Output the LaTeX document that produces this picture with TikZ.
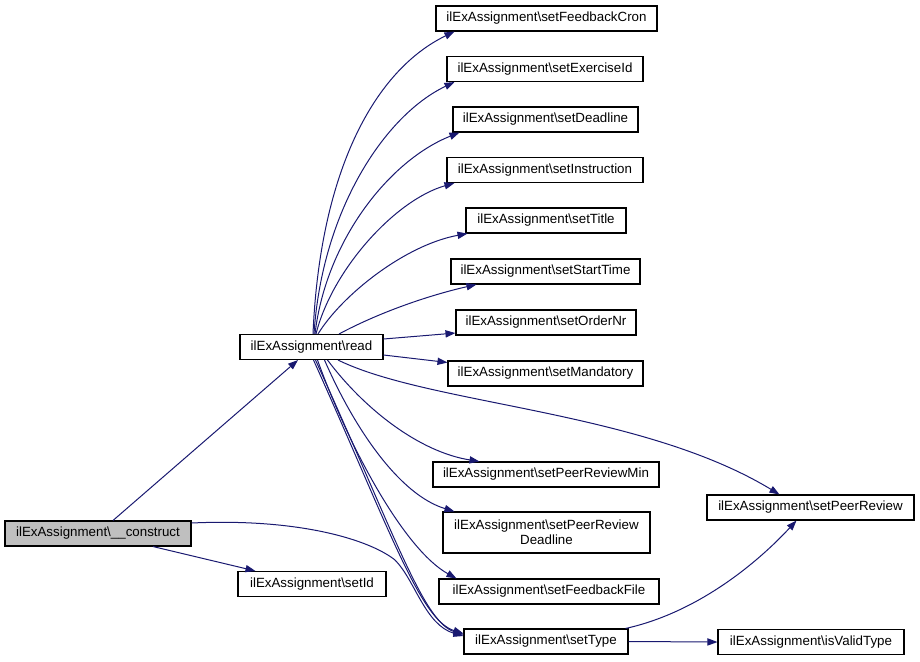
\documentclass[tikz,border=0pt]{standalone}
\usepackage{fontspec}
\setmainfont{Liberation Sans}
\usetikzlibrary{arrows.meta,calc}
\definecolor{edgeblue}{HTML}{191970}
\definecolor{curgray}{HTML}{BFBFBF}
\tikzset{
  fn/.style={draw=black, fill=white, line width=0.8pt, inner sep=0pt,
    font=\fontsize{10}{11.5}\selectfont, align=center, minimum height=25*0.75pt},
  call/.style={draw=edgeblue, line width=0.75pt, -{Triangle[length=7.5pt,width=5.4pt]}}
}
\newcommand{\bs}{\textbackslash}
\begin{document}
\begin{tikzpicture}[x=0.75pt,y=-0.75pt]
\useasboundingbox (0,0) rectangle (920,661);
% nodes
\node[fn, fill=curgray, minimum width=186*0.75pt] (construct) at (98,533.5) {ilExAssignment\bs\_\_construct};
\node[fn, minimum width=143*0.75pt] (read) at (311.5,347) {ilExAssignment\bs read};
\node[fn, minimum width=148*0.75pt] (setId) at (312,584) {ilExAssignment\bs setId};
\node[fn, minimum width=221*0.75pt] (fcron) at (546.5,18.5) {ilExAssignment\bs setFeedbackCron};
\node[fn, minimum width=196*0.75pt] (exid) at (545,69) {ilExAssignment\bs setExerciseId};
\node[fn, minimum width=185*0.75pt] (deadl) at (545.5,119.5) {ilExAssignment\bs setDeadline};
\node[fn, minimum width=196*0.75pt] (instr) at (545,170) {ilExAssignment\bs setInstruction};
\node[fn, minimum width=160*0.75pt] (title) at (546,220.5) {ilExAssignment\bs setTitle};
\node[fn, minimum width=189*0.75pt] (stime) at (545.5,271.5) {ilExAssignment\bs setStartTime};
\node[fn, minimum width=180*0.75pt] (ordnr) at (546,322.5) {ilExAssignment\bs setOrderNr};
\node[fn, minimum width=195*0.75pt] (mand) at (545.5,373.5) {ilExAssignment\bs setMandatory};
\node[fn, minimum width=226*0.75pt] (prmin) at (546,474.5) {ilExAssignment\bs setPeerReviewMin};
\node[fn, minimum width=207*0.75pt, minimum height=41*0.75pt] (prdl) at (546.5,532.5) {ilExAssignment\bs setPeerReview\\Deadline};
\node[fn, minimum width=220*0.75pt] (ffile) at (549,591.5) {ilExAssignment\bs setFeedbackFile};
\node[fn, minimum width=164*0.75pt] (stype) at (546,641.5) {ilExAssignment\bs setType};
\node[fn, minimum width=207*0.75pt] (prev) at (810.5,507.5) {ilExAssignment\bs setPeerReview};
\node[fn, minimum width=186*0.75pt] (valid) at (811,642) {ilExAssignment\bs isValidType};
% edges from construct
\draw[call] ($(construct.north)+(15,0)$) -- ($(read.south)+(-13.5,0)$);
\draw[call] ($(construct.south)+(55,0)$) -- ($(setId.north west)+(18,0)$);
\draw[call] ($(construct.east)+(0,-10.5)$) .. controls (300,518) and (370,540) .. (395,560)
  .. controls (415,580) and (425,625) .. ($(stype.west)+(0,-5.5)$);
% edges from read upward
\draw[call] ($(read.north)+(1.5,0)$) .. controls (320,170) and (375,70) .. ($(fcron.south west)+(19,0)$);
\draw[call] ($(read.north)+(2.5,0)$) .. controls (322,210) and (385,115) .. ($(exid.south west)+(8,0)$);
\draw[call] ($(read.north)+(3.5,0)$) .. controls (326,240) and (390,160) .. ($(deadl.south west)+(7,0)$);
\draw[call] ($(read.north)+(4.5,0)$) .. controls (332,270) and (395,200) .. ($(instr.south west)+(8,0)$);
\draw[call] ($(read.north)+(6.5,0)$) .. controls (342,295) and (405,245) .. ($(title.south west)+(2,0)$);
\draw[call] ($(read.north)+(27.5,0)$) .. controls (380,312) and (430,295) .. ($(stime.south west)+(26,0)$);
\draw[call] ($(read.east)+(0,-8)$) -- ($(ordnr.south west)+(0,-2.5)$);
\draw[call] ($(read.east)+(0,8)$) -- ($(mand.north west)+(0,2)$);
% edges from read downward
\draw[call] ($(read.south)+(26.5,0)$) .. controls (430,405) and (640,410) .. ($(prev.north west)+(73,0)$);
\draw[call] ($(read.south)+(16,0)$) .. controls (365,410) and (420,452) .. ($(prmin.north west)+(47,0)$);
\draw[call] ($(read.south)+(13,0)$) .. controls (355,430) and (400,495) .. ($(prdl.north west)+(12,0)$);
\draw[call] ($(read.south)+(6,0)$) .. controls (350,450) and (405,550) .. ($(ffile.north west)+(18,0)$);
\draw[call] ($(read.south)+(2,0)$) .. controls (390,530) and (420,620) .. ($(stype.west)+(0,-8)$);
\draw[call] ($(read.south)+(4,0)$) .. controls (393,530) and (423,622) .. ($(stype.west)+(0,-7)$);
% edges from setType
\draw[call] ($(stype.north east)+(-3,0)$) .. controls (700,612) and (760,560) .. ($(prev.south west)+(90,0)$);
\draw[call] (stype.east) -- (valid.west);
\end{tikzpicture}
\end{document}
